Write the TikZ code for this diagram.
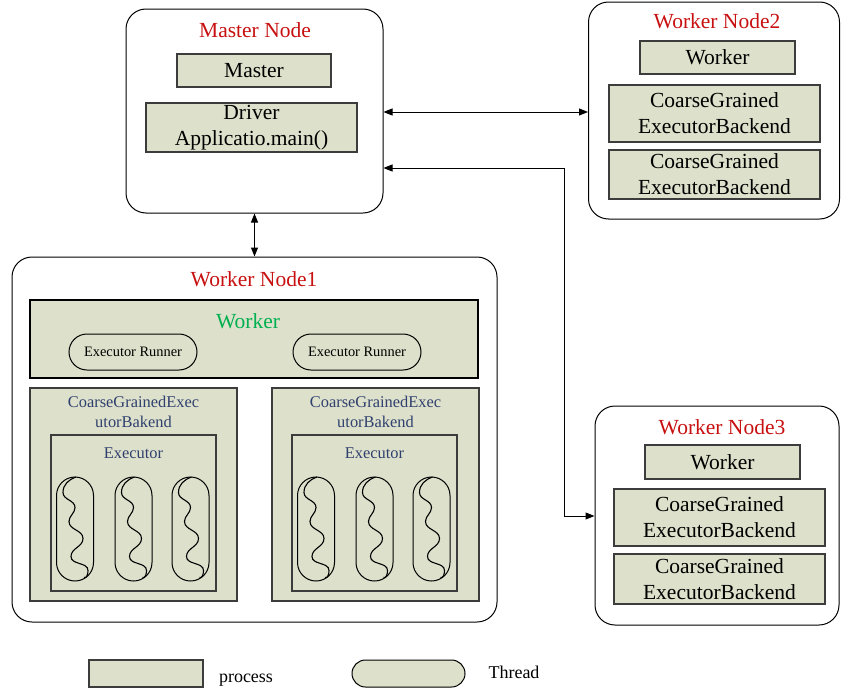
\documentclass[tikz,border=0pt]{standalone}
\usepackage{fontspec}
\setmainfont{Liberation Serif}
\usetikzlibrary{arrows.meta}
\definecolor{procfill}{RGB}{221,224,202}
\definecolor{procline}{RGB}{60,60,60}
\definecolor{titlered}{RGB}{200,16,16}
\definecolor{workgreen}{RGB}{0,176,80}
\definecolor{cgblue}{RGB}{47,64,110}
\newcommand\fsbig{\fontsize{21.5}{25.8}\selectfont}
\newcommand\fsmid{\fontsize{16.4}{19.8}\selectfont}
\newcommand\fssmall{\fontsize{14.4}{17}\selectfont}
\newcommand\fslegend{\fontsize{18}{21}\selectfont}
\tikzset{
  host/.style={draw, line width=1pt, rounded corners=20pt, inner sep=0pt},
  proc/.style={draw=procline, fill=procfill, line width=1.2pt, inner sep=0pt, align=center, font=\fsbig},
  thread/.style={draw, fill=procfill, line width=1pt, inner sep=0pt},
  hosttitle/.style={text=titlered, font=\fsbig, inner sep=0pt},
  cgtext/.style={text=cgblue, font=\fsmid, inner sep=0pt, align=center},
  link/.style={line width=1pt, {Triangle[length=9pt,width=7pt]}-{Triangle[length=9pt,width=7pt]}},
  wave/.style={line width=1.1pt}
}
\begin{document}
\begin{tikzpicture}[x=1pt, y=-1pt]
\useasboundingbox (0,0) rectangle (841,688);

% ---------- Master node ----------
\node[host, minimum width=257pt, minimum height=204pt] (mhost) at (254.5,111) {};
\node[hosttitle] (mtitle) at (255,30) {Master Node};
\node[proc, minimum width=154pt, minimum height=33pt] (master) at (254,70.5) {Master};
\node[proc, minimum width=211pt, minimum height=49pt] (driver) at (251.5,127.5) {Driver\\Applicatio.main()};

% ---------- Worker node 2 ----------
\node[host, minimum width=251pt, minimum height=217pt] (w2host) at (714,110.5) {};
\node[hosttitle] (w2title) at (717,21) {Worker Node2};
\node[proc, minimum width=155pt, minimum height=33pt] (w2worker) at (717.5,57.5) {Worker};
\node[proc, minimum width=211pt, minimum height=57pt] (w2cgA) at (714.5,113.5) {CoarseGrained\\ExecutorBackend};
\node[proc, minimum width=211pt, minimum height=49pt] (w2cgB) at (714.5,174.5) {CoarseGrained\\ExecutorBackend};

% ---------- Worker node 3 ----------
\node[host, minimum width=244pt, minimum height=219pt] (w3host) at (717,515.5) {};
\node[hosttitle] (w3title) at (722,427) {Worker Node3};
\node[proc, minimum width=155pt, minimum height=34pt] (w3worker) at (722.5,462) {Worker};
\node[proc, minimum width=211pt, minimum height=57pt] (w3cgA) at (719.5,517.5) {CoarseGrained\\ExecutorBackend};
\node[proc, minimum width=211pt, minimum height=50pt] (w3cgB) at (719.5,579) {CoarseGrained\\ExecutorBackend};

% ---------- Worker node 1 ----------
\node[host, minimum width=485pt, minimum height=365pt] (w1host) at (254.5,439.5) {};
\node[hosttitle] (w1title) at (254,279) {Worker Node1};
\node[proc, draw=black, minimum width=448pt, minimum height=78pt] (w1worker) at (254,339) {};
\node[text=workgreen, font=\fsbig, inner sep=0pt] (w1wlabel) at (248,321) {Worker};
\node[thread, rounded corners=18pt, minimum width=128pt, minimum height=36pt, font=\fssmall] (runA) at (133,352) {Executor Runner};
\node[thread, rounded corners=18pt, minimum width=128pt, minimum height=36pt, font=\fssmall] (runB) at (357,352) {Executor Runner};

% two backend processes, each holding an executor with three threads
\foreach \side/\cx/\ex in {L/133.5/133.5, R/375.5/374.5}{
  \node[proc, minimum width=207pt, minimum height=213pt] (cg\side) at (\cx,494.5) {};
  \node[cgtext] (cgtxt\side) at (\cx,412) {CoarseGrainedExec\\utorBakend};
  \node[proc, minimum width=165pt, minimum height=156pt] (ex\side) at (\ex,513) {};
  \node[cgtext] (extxt\side) at (\ex,453) {Executor};
  \foreach \t/\dx in {a/-58.5, b/0, c/57}{
    \node[thread, rounded corners=18.5pt, minimum width=37pt, minimum height=104pt] (th\side\t) at (\ex+\dx,529) {};
    \begin{scope}[shift={(th\side\t.north west)}]
      % wavy thread line, top to bottom
      \draw[wave] (20,0.5) to[out=200,in=90] (7,16)
        to[out=-90,in=90] (19,31) to[out=-90,in=90] (13,45)
        to[out=-90,in=90] (27,62) to[out=-90,in=90] (15,80)
        to[out=-90,in=90] (32,94) to[out=-90,in=-20] (28,101);
    \end{scope}
  }
}

% ---------- connections ----------
\coordinate (bend) at (564,516);
\draw[link] (mhost.east |- 0,112) -- (w2host.west |- 0,112);
\draw[link] (mhost.east |- 0,168) -| (bend) -- (w3host.west |- bend);
\draw[link] (mhost.south) -- (w1host.north);

% ---------- legend ----------
\node[proc, minimum width=114pt, minimum height=27pt] (legproc) at (146,673.5) {};
\node[font=\fslegend, inner sep=0pt, anchor=base] (legproctxt) at (246,682) {process};
\node[thread, rounded corners=13.5pt, minimum width=113pt, minimum height=27pt] (legthr) at (408.5,673.5) {};
\node[font=\fslegend, inner sep=0pt, anchor=base] (legthrtxt) at (514,678) {Thread};
\end{tikzpicture}
\end{document}
